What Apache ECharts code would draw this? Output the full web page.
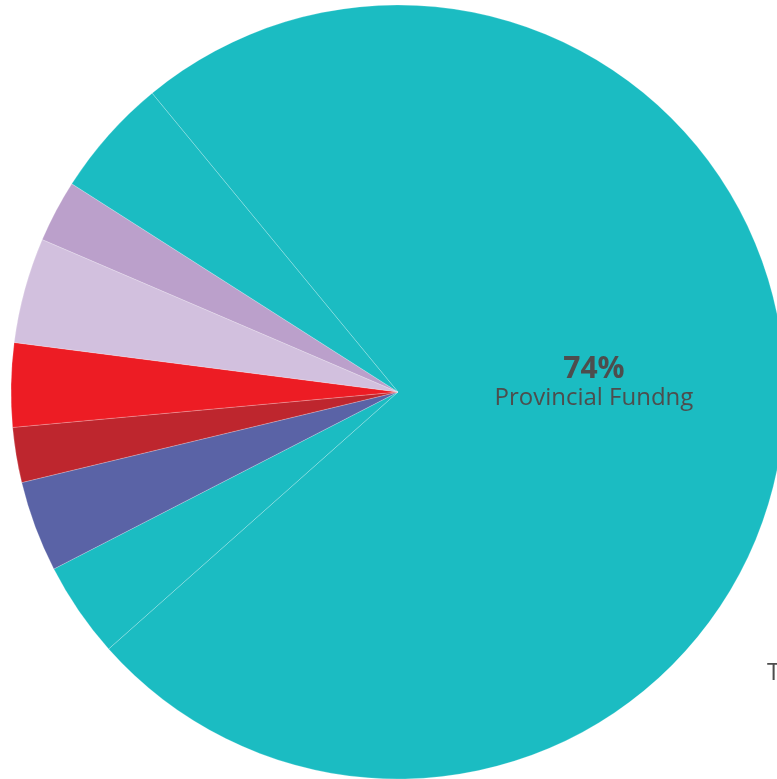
<!DOCTYPE html>
<html>
<head>
<meta charset="utf-8">
<script src="https://cdn.jsdelivr.net/npm/echarts@6/dist/echarts.min.js"></script>
<style>
  html, body { margin: 0; padding: 0; background: #fff; }
  #chart { width: 777px; height: 779px; }
</style>
</head>
<body>
<div id="chart"></div>
<script>
// slices in clockwise order starting from the upper-left edge of the big slice
const sliceNames = ['Provincial Fundng', 'Slice B', 'Slice C', 'Slice D', 'Slice E', 'Slice F', 'Slice G', 'Slice H'];
const sliceValues = [74.4, 4.0, 3.8, 2.3, 3.5, 4.4, 2.6, 5.0];
const sliceColors = ['#1BBCC2', '#1BBCC2', '#5A63A6', '#BE262E', '#ED1C24', '#D2C0DE', '#BBA0CB', '#1BBCC2'];

const chart = echarts.init(document.getElementById('chart'));

const option = {
  animation: false,
  graphic: [{
    type: 'text',
    left: 767,
    top: 661,
    style: { text: 'T', fontSize: 24, fontFamily: 'Open Sans', fill: '#4d4d4d' }
  }],
  series: [{
    type: 'pie',
    center: [398, 392],
    radius: [0, 387],
    startAngle: 129.45,
    clockwise: true,
    data: sliceNames.map((name, i) => ({
      name: name,
      value: sliceValues[i],
      itemStyle: { color: sliceColors[i] },
      label: { show: i === 0 }
    })),
    itemStyle: {
      borderColor: 'rgba(255,255,255,0.35)',
      borderWidth: 0.6
    },
    label: {
      position: 'inside',
      offset: [0, -25],
      fontFamily: 'Open Sans',
      color: '#4d4d4d',
      formatter: function (p) {
        return '{a|' + Math.round(p.value) + '%}\n{b|' + p.name + '}';
      },
      rich: {
        a: { fontSize: 30, fontWeight: 'bold', color: '#4d4d4d', fontFamily: 'Open Sans', lineHeight: 31 },
        b: { fontSize: 24, color: '#4d4d4d', fontFamily: 'Open Sans', lineHeight: 26 }
      }
    },
    labelLine: { show: false },
    emphasis: { disabled: true }
  }]
};

chart.setOption(option);
</script>
</body>
</html>
